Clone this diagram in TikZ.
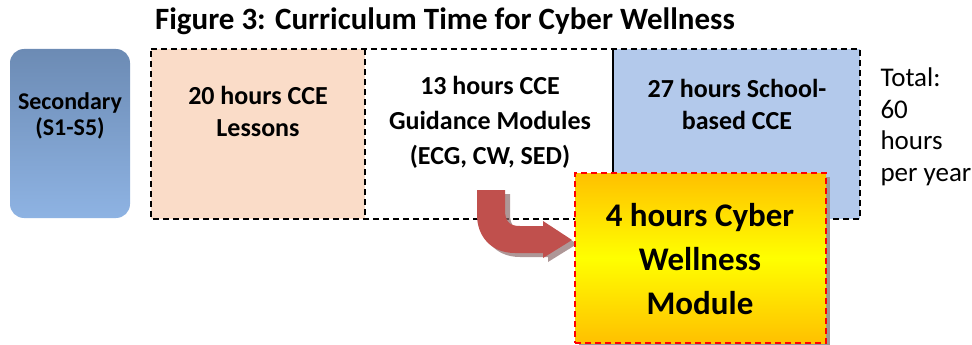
\documentclass[tikz,border=0pt]{standalone}
\usepackage{fontspec}
\setmainfont{Carlito}
\definecolor{secTop}{HTML}{6C8BB4}
\definecolor{secBot}{HTML}{8EB3E3}
\definecolor{peach}{HTML}{FADCC8}
\definecolor{lblue}{HTML}{B3C9EB}
\definecolor{arrowred}{HTML}{C0504D}
\definecolor{arrowshade}{HTML}{8C6B6B}
\definecolor{ygold}{HTML}{FFC000}
\definecolor{yyel}{HTML}{FFFF00}
\begin{document}
\begin{tikzpicture}[x=1pt,y=-1pt,
  boxtext/.style={font=\bfseries\fontsize{26}{32}\selectfont, align=center, text=black},
  dashline/.style={draw=black, line width=1.6pt, dash pattern=on 6pt off 4pt},
  secbox/.style={rounded corners=14pt, top color=secTop, bottom color=secBot, draw=none},
]
\useasboundingbox (0,0) rectangle (972,345);
% title
\node[font=\bfseries\fontsize{31}{34}\selectfont] (title) at (445,21) {Figure 3: Curriculum Time for Cyber Wellness};
% secondary
\node[secbox, minimum width=120pt, minimum height=169pt, inner sep=0pt] (sec) at (70,133.5) {};
\node[boxtext, font=\bfseries\fontsize{24}{26}\selectfont] (sectext) at (70,116) {Secondary\\(S1-S5)};
% boxes
\node[fill=peach, minimum width=214pt, minimum height=169pt, inner sep=0pt] (cce) at (258,134) {};
\node[fill=lblue, minimum width=247pt, minimum height=169pt, inner sep=0pt] (school) at (736.5,134) {};
\node[minimum width=248pt, minimum height=169pt, inner sep=0pt] (guid) at (489,134) {};
\draw[dashline] (cce.north west) -- (school.north east) -- (school.south east) -- (cce.south west) -- cycle;
\draw[dashline] (cce.north east) -- (cce.south east);
\draw[line width=1.6pt] (guid.north east) -- (guid.south east);
\node[boxtext] (cceText) at (258,111) {20 hours CCE\\Lessons};
\node[boxtext, font=\bfseries\fontsize{26}{35}\selectfont] (guidText) at (490,122) {13 hours CCE\\Guidance Modules\\(ECG, CW, SED)};
\node[boxtext] (schoolText) at (737,104) {27 hours School-\\based CCE};
\node[font=\fontsize{27}{31.5}\selectfont, align=left, anchor=west] (total) at (877,127) {Total:\\60\\hours\\per year};
% arrow shadow
\fill[arrowshade, opacity=0.7, shift={(5,4)}] (477,190) -- (505,190) -- (505,210) .. controls (505,222) and (510,226) .. (520,226) -- (543,226) -- (543,221) -- (572,240) -- (543,258) -- (543,253) -- (515,253) .. controls (490,253) and (477,235) .. (477,215) -- cycle;
% arrow
\fill[arrowred] (477,190) -- (505,190) -- (505,210) .. controls (505,222) and (510,226) .. (520,226) -- (543,226) -- (543,221) -- (572,240) -- (543,258) -- (543,253) -- (515,253) .. controls (490,253) and (477,235) .. (477,215) -- cycle;
% yellow box
\fill[gray!80] (579,177) rectangle (830,345);
\node[minimum width=251pt, minimum height=170pt, inner sep=0pt, top color=ygold, bottom color=ygold, middle color=yyel, draw=red, line width=1.6pt, dash pattern=on 6pt off 4pt] (cw) at (700.5,258) {};
\node[boxtext, font=\bfseries\fontsize{33}{44}\selectfont] (cwText) at (700,259) {4 hours Cyber\\Wellness\\Module};
\end{tikzpicture}
\end{document}
